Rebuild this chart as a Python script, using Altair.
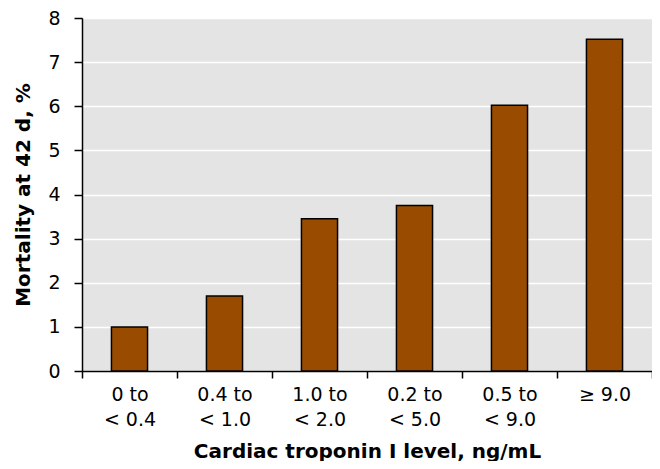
import altair as alt
import pandas as pd

categories = ["0 to|< 0.4", "0.4 to|< 1.0", "1.0 to|< 2.0", "0.2 to|< 5.0", "0.5 to|< 9.0", "≥ 9.0"]
mortality = [1.0, 1.7, 3.45, 3.75, 6.02, 7.52]

df = pd.DataFrame({"cat": categories, "val": mortality})

FONT = "DejaVu Sans"

bars = alt.Chart(df).mark_bar(
    fill="#994c00", stroke="black", strokeWidth=1.5,
    width=alt.RelativeBandSize(0.38)
).encode(
    x=alt.X("cat:N", sort=categories,
            scale=alt.Scale(paddingInner=0, paddingOuter=0),
            axis=alt.Axis(title="Cardiac troponin I level, ng/mL", labelAngle=0,
                          labelExpr="split(datum.label, '|')",
                          bandPosition=0, tickBand="extent",
                          labelLineHeight=25, labelPadding=7,
                          labelFontSize=19, labelFont=FONT, labelColor="black",
                          tickSize=7, tickColor="black", tickWidth=1.5,
                          domainColor="black", domainWidth=1.5,
                          titleFont=FONT, titleFontSize=20, titleFontWeight="bold",
                          titleColor="black", titlePadding=12, grid=False)),
    y=alt.Y("val:Q", scale=alt.Scale(domain=[0, 8], nice=False),
            axis=alt.Axis(title="Mortality at 42 d, %", values=list(range(9)),
                          tickSize=8, tickColor="black", tickWidth=1.5,
                          domainColor="black", domainWidth=1.5,
                          labelFontSize=19, labelFont=FONT, labelColor="black",
                          labelPadding=14,
                          gridColor="white", gridWidth=1.5,
                          titleFont=FONT, titleFontSize=20, titleFontWeight="bold",
                          titleColor="black", titlePadding=14)),
)

chart = bars.properties(
    width=570, height=353,
    padding={"left": 74, "top": 10, "right": 0, "bottom": 90},
    autosize=alt.AutoSizeParams(type="none"),
).configure_view(fill="#e4e4e4", stroke="#333333", strokeWidth=1)

chart.save("out.html", embed_options={"renderer": "svg", "actions": False})
